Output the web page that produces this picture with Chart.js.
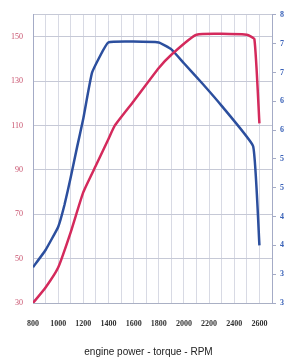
<!DOCTYPE html>
<html>
<head>
<meta charset="utf-8">
<script src="https://cdn.jsdelivr.net/npm/chart.js@4"></script>
<style>
  html, body { margin: 0; padding: 0; background: #fff; overflow: hidden; }
  #wrap { width: 284px; height: 358px; overflow: hidden; position: relative; }
  #chart { position: absolute; left: 0; top: 0; }
</style>
</head>
<body>
<div id="wrap"><canvas id="chart" width="297" height="358"></canvas></div>
<script>
/* engine curves: power (kW, left) and torque (Nm, right) vs RPM */
const powerRpm = [800, 900, 1000, 1100, 1200, 1300, 1400, 1450, 1600, 1800, 1900, 2100, 2500, 2560, 2600];
const powerKw  = [30, 37, 46, 62, 80, 92, 104, 110, 121, 136, 142, 151, 151, 149, 111];

const torqueRpm = [800, 900, 1000, 1050, 1100, 1150, 1200, 1270, 1400, 1800, 1900, 2000, 2150, 2300, 2550, 2600];
const torqueNm  = [362, 392, 432, 470, 518, 570, 620, 700, 752, 752, 740, 716, 680, 642, 572, 400];

const xLabels = [800, 1000, 1200, 1400, 1600, 1800, 2000, 2200, 2400, 2600];
const leftTicks = [30, 50, 70, 90, 110, 130, 150, 160];
const leftLabels = [30, 50, 70, 90, 110, 130, 150];
const rightTicks = [300, 350, 400, 450, 500, 550, 600, 650, 700, 750, 800];

const RED = '#d42a5c';
const BLUE = '#2c4f9e';

const toPoints = (xs, ys) => xs.map((x, i) => ({ x, y: ys[i] }));

new Chart(document.getElementById('chart'), {
    type: 'line',
    data: {
        datasets: [
            {
                label: 'power',
                data: toPoints(powerRpm, powerKw),
                borderColor: RED,
                borderWidth: 2.5,
                pointRadius: 0,
                tension: 0.15,
                borderJoinStyle: 'round',
                yAxisID: 'yL',
            },
            {
                label: 'torque',
                data: toPoints(torqueRpm, torqueNm),
                borderColor: BLUE,
                borderWidth: 2.5,
                pointRadius: 0,
                tension: 0.1,
                borderJoinStyle: 'round',
                yAxisID: 'yR',
            },
        ],
    },
    options: {
        responsive: false,
        animation: false,
        layout: { padding: { top: 13, left: 0, right: 0, bottom: 0 } },
        plugins: {
            legend: { display: false },
            tooltip: { enabled: false },
            title: {
                display: true,
                position: 'bottom',
                text: 'engine power - torque - RPM',
                color: '#222',
                font: { family: 'Liberation Sans', size: 10, weight: 'normal' },
                padding: { top: 7, bottom: 0 },
            },
        },
        scales: {
            x: {
                type: 'linear',
                min: 800,
                max: 2700,
                afterBuildTicks: (s) => {
                    const t = [];
                    for (let v = 800; v <= 2700; v += 100) t.push({ value: v });
                    s.ticks = t;
                },
                afterFit: (s) => { s.height = 36; },
                ticks: {
                    autoSkip: false,
                    maxRotation: 0,
                    padding: 16,
                    color: '#333',
                    font: { family: 'Liberation Serif', size: 8, weight: 'bold' },
                    callback: (v) => xLabels.includes(v) ? String(v) : '',
                },
                grid: { color: '#d8dae4', drawTicks: false },
                border: { color: '#aab0c4' },
            },
            yL: {
                position: 'left',
                min: 30,
                max: 160,
                afterBuildTicks: (s) => { s.ticks = leftTicks.map(v => ({ value: v })); },
                afterFit: (s) => { s.width = 33; },
                ticks: {
                    autoSkip: false,
                    padding: 10,
                    color: '#c8506c',
                    font: { family: 'Liberation Serif', size: 8 },
                    callback: (v) => leftLabels.includes(v) ? String(v) : '',
                },
                grid: { color: '#c6c9d6', drawTicks: false },
                border: { color: '#a4abc6' },
            },
            yR: {
                position: 'right',
                min: 300,
                max: 800,
                afterBuildTicks: (s) => { s.ticks = rightTicks.map(v => ({ value: v })); },
                afterFit: (s) => { s.width = 25; },
                ticks: {
                    autoSkip: false,
                    padding: 4,
                    color: '#3a62b8',
                    font: { family: 'Liberation Serif', size: 8, weight: 'bold' },
                },
                grid: { drawOnChartArea: false, tickLength: 4, color: '#a4abc6' },
                border: { color: '#a4abc6' },
            },
        },
    },
});
</script>
</body>
</html>
